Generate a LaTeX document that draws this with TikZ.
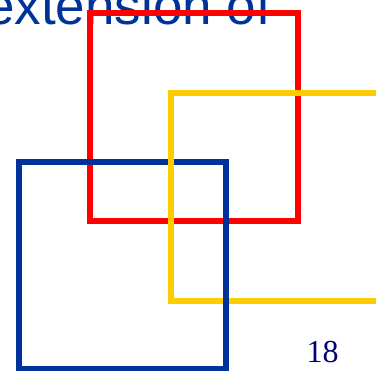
\documentclass[tikz,border=0pt]{standalone}
\usepackage{fontspec}
\setmainfont{Liberation Serif}
\newfontfamily\arialfont{Liberation Sans}
\definecolor{titleblue}{RGB}{0,51,153}
\definecolor{sqred}{RGB}{255,0,0}
\definecolor{sqyellow}{RGB}{255,204,0}
\definecolor{sqblue}{RGB}{0,51,153}
\definecolor{numblue}{RGB}{0,0,120}
\tikzset{
  sqline/.style={line width=6pt, line join=miter},
  titletext/.style={inner sep=0pt, anchor=base west, text=titleblue, font=\arialfont\fontsize{53}{60}\selectfont},
  pagenum/.style={inner sep=0pt, anchor=base west, text=numblue, font=\fontsize{32}{36}\selectfont}
}
\begin{document}
\begin{tikzpicture}[x=1pt,y=-1pt]
\useasboundingbox (0,0) rectangle (376,371);
\clip (0,0) rectangle (376,371);
\node[titletext] (title) at (-15,25) {extension of};
% red square
\coordinate (r1) at (90,13);
\coordinate (r2) at (298,221);
\draw[sqline, draw=sqred] (r1) rectangle (r2);
% blue square
\coordinate (b1) at (19,162.5);
\coordinate (b2) at (226,369);
\draw[sqline, draw=sqblue] (b1) rectangle (b2);
% yellow square
\coordinate (y1) at (170.5,93);
\coordinate (y2) at (378.5,301);
\draw[sqline, draw=sqyellow] (y1) rectangle (y2);
% blue right side passes over yellow bottom
\coordinate (bp1) at (226,288);
\coordinate (bp2) at (226,314);
\draw[line width=6pt, draw=sqblue] (bp1) -- (bp2);
\node[pagenum] (num) at (306.5,363) {18};
\end{tikzpicture}
\end{document}
